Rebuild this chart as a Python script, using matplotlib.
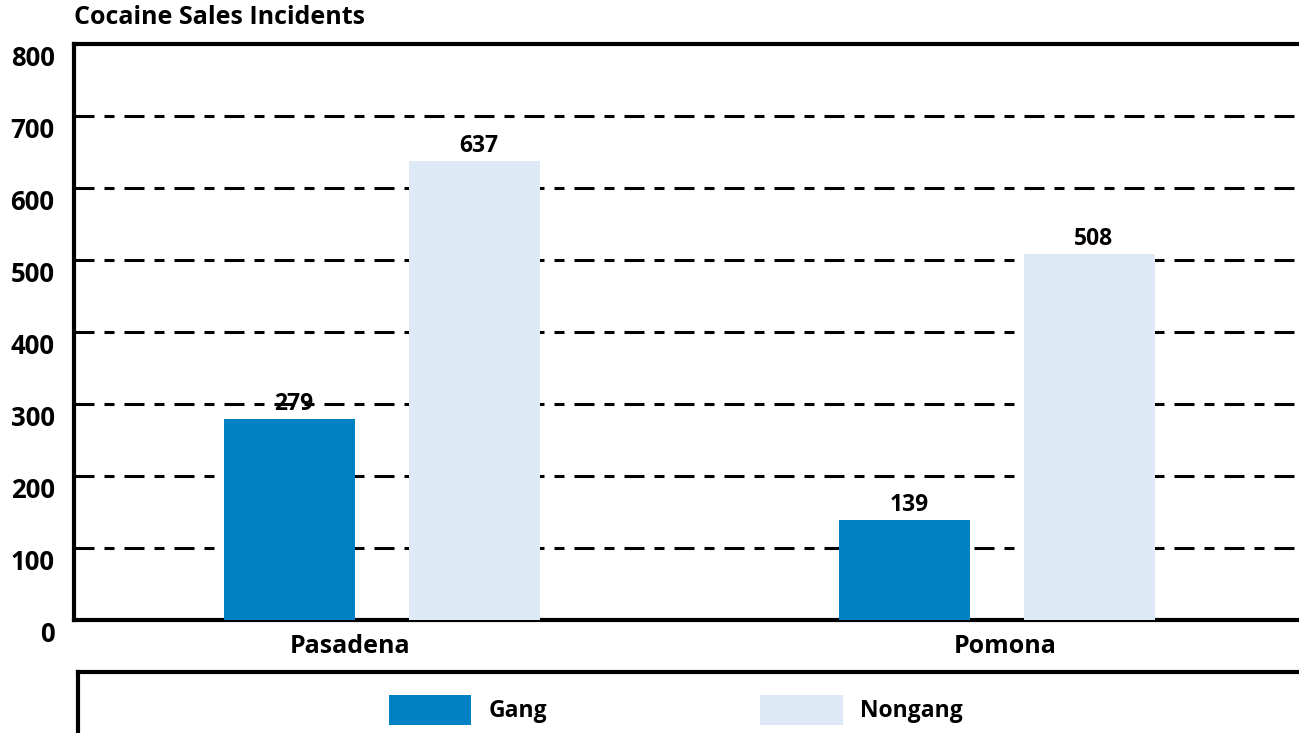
import matplotlib
matplotlib.use("Agg")
import matplotlib.pyplot as plt
import matplotlib.transforms as mtransforms
import numpy as np

plt.rcParams['font.family'] = ['Open Sans', 'DejaVu Sans']
plt.rcParams['font.weight'] = 'bold'
plt.rcParams['lines.scale_dashes'] = False

cities = ["Pasadena", "Pomona"]
series = ["Gang", "Nongang"]
gang = [279, 139]
nongang = [637, 508]
y_ticks = [0, 100, 200, 300, 400, 500, 600, 700, 800]

colors = ["#0081C4", "#DDE9F5"]

W, H = 1299, 733
fig = plt.figure(figsize=(W / 100, H / 100), dpi=100)

# main axes (right edge runs off the figure, like the original)
ax = fig.add_axes([74 / W, 1 - 620 / H, (1305 - 74) / W, (620 - 44) / H])

x = np.arange(len(cities))
bw = 0.213
off = 0.150
b1 = ax.bar(x - off, gang, bw, color=colors[0], label=series[0], zorder=3)
b2 = ax.bar(x + off, nongang, bw, color=colors[1], label=series[1], zorder=3)

for bars in (b1, b2):
    for r in bars:
        ax.text(r.get_x() + r.get_width() / 2 + 0.007, r.get_height() + 4, str(int(r.get_height())),
                ha='center', va='bottom', fontsize=16.5, fontweight='bold', zorder=4)

ax.set_xlim(-0.5, 1.5)
ax.set_ylim(0, 800)
ax.set_yticks(y_ticks)
ax.set_yticklabels([str(v) for v in y_ticks], fontsize=18.5, fontweight='bold')
# category labels are not quite centred under their groups in the original
ax.set_xticks(x + np.array([-0.052, 0.013]))
ax.set_xticklabels(cities, fontsize=18, fontweight='bold')
ax.tick_params(axis='both', length=0)
ax.tick_params(axis='y', pad=14)
ax.tick_params(axis='x', pad=10)

# labels sit a bit below their gridlines
shift = mtransforms.ScaledTranslation(0, -12 / 100, fig.dpi_scale_trans)
for lab in ax.get_yticklabels():
    lab.set_transform(lab.get_transform() + shift)

for v in y_ticks[1:-1]:
    ax.axhline(v, color='black', lw=2.2, linestyle=(0, (14.4, 7.2, 7.2, 7.2)), zorder=1)

for s in ['left', 'top', 'bottom']:
    ax.spines[s].set_linewidth(3)
ax.spines['right'].set_visible(False)

ax.text(0, 1.025, "Cocaine Sales Incidents", transform=ax.transAxes,
        fontsize=18, fontweight='bold', ha='left', va='bottom')

# legend box
lax = fig.add_axes([78 / W, 0, 1.0, (733 - 672) / H])
lax.set_xticks([])
lax.set_yticks([])
for s in ['right', 'bottom']:
    lax.spines[s].set_visible(False)
for s in ['left', 'top']:
    lax.spines[s].set_linewidth(3)

fig.legend(handles=[b1, b2], labels=series, loc='center left',
           bbox_to_anchor=(389 / W, 1 - 710 / H), ncol=2, frameon=False,
           fontsize=16.5, handlelength=3.6, handleheight=1.65,
           handletextpad=0.75, columnspacing=9.3, borderaxespad=0, borderpad=0)

fig.savefig("out.png", dpi=100)
